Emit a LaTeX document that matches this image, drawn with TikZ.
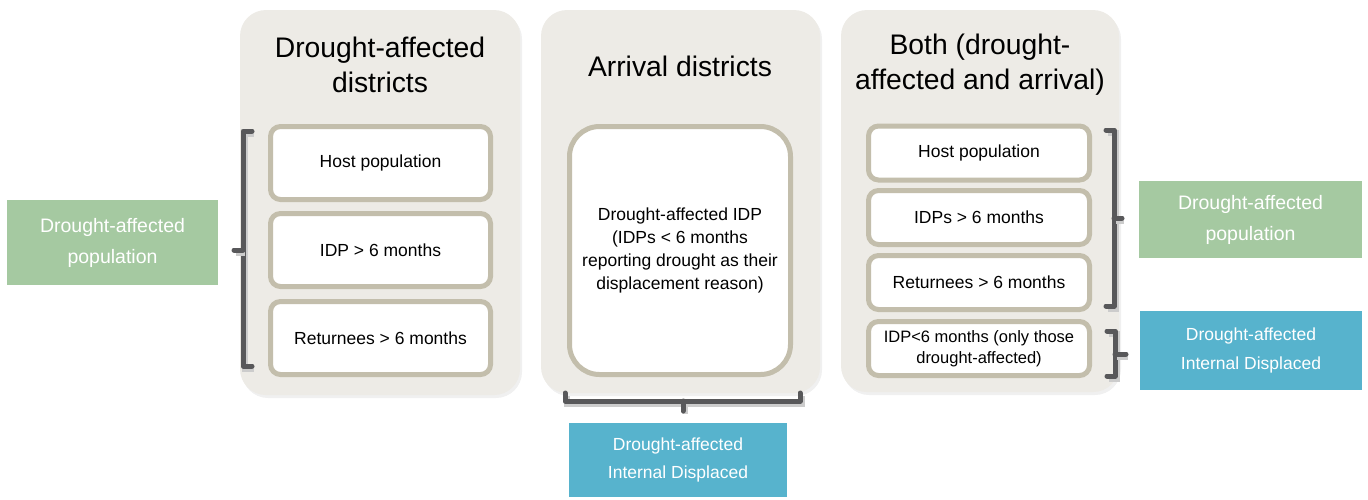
\documentclass[tikz,border=0pt]{standalone}
\usepackage{fontspec}
\setmainfont{Liberation Sans}
\usetikzlibrary{shadows}
\definecolor{panelfill}{HTML}{EDEBE6}
\definecolor{itemline}{HTML}{C3BEAC}
\definecolor{brackcol}{HTML}{58585A}
\definecolor{greenbox}{HTML}{A5C9A1}
\definecolor{bluebox}{HTML}{57B3CD}
\begin{document}
\begin{tikzpicture}[x=1pt,y=-1pt,
  panel/.style={fill=panelfill, rounded corners=26pt,
    drop shadow={shadow xshift=2pt, shadow yshift=-3pt, opacity=0.12}},
  paneltitle/.style={align=center, font=\fontsize{28.3}{35}\selectfont, inner sep=0pt},
  itembox/.style={draw=itemline, line width=5pt, fill=white, rounded corners=10pt,
    align=center, font=\fontsize{17.5}{23}\selectfont, inner sep=0pt},
  brack/.style={draw=brackcol, line width=5pt, line cap=round, line join=round,
    preaction={draw=black!20, line width=6pt, transform canvas={shift={(1.5pt,-3pt)}}}},
  labelbox/.style={text=white, align=center, inner sep=0pt},
  greenlab/.style={labelbox, fill=greenbox, font=\fontsize{19.5}{31}\selectfont},
  bluelab/.style={labelbox, fill=bluebox, font=\fontsize{17.5}{28.5}\selectfont}]
\useasboundingbox (0,0) rectangle (1368,499);

% three column panels
\path[panel] (240,10) rectangle (520,395);
\path[panel] (541,10) rectangle (820,393);
\path[panel] (841,10) rectangle (1119,392);

% panel titles
\node[paneltitle] (t1) at (380,65) {Drought-affected\\districts};
\node[paneltitle] (t2) at (680,66) {Arrival districts};
\node[paneltitle] (t3) at (980,65) {Both (drought-\\affected and arrival)};

% drought-affected districts
\node[itembox, minimum width=220, minimum height=73] (a1) at (380.5,163) {Host population};
\node[itembox, minimum width=220, minimum height=73] (a2) at (380.5,250) {IDP > 6 months};
\node[itembox, minimum width=220, minimum height=73] (a3) at (380.5,338) {Returnees > 6 months};

% arrival districts
\node[itembox, rounded corners=30pt, minimum width=221, minimum height=248] (b1) at (680,250.5)
  {Drought-affected IDP\\(IDPs < 6 months\\reporting drought as their\\displacement reason)};

% both
\node[itembox, minimum width=221, minimum height=54] (c1) at (979,153) {Host population};
\node[itembox, minimum width=221, minimum height=54] (c2) at (979,217.5) {IDPs > 6 months};
\node[itembox, minimum width=221, minimum height=54] (c3) at (979,282.5) {Returnees > 6 months};
\node[itembox, minimum width=221, minimum height=54, font=\fontsize{16.5}{21}\selectfont] (c4) at (979,348.5)
  {IDP<6 months (only those\\drought-affected)};

% brackets
\path[brack] (252,131) -- (243,131) -- (243,366) -- (252,366);
\path[brack] (243,250) -- (234,250);

\path[brack] (565,393) -- (565,401) -- (800,401) -- (800,393);
\path[brack] (683,401) -- (683,411);

\path[brack] (1106,130) -- (1114,130) -- (1114,306) -- (1106,306);
\path[brack] (1114,218) -- (1122,218);

\path[brack] (1107,331) -- (1115,331) -- (1115,376) -- (1107,376);
\path[brack] (1115,354) -- (1126,354);

% group labels
\node[greenlab, minimum width=211, minimum height=85] (g1) at (112.5,242.5) {Drought-affected\\population};
\node[greenlab, minimum width=223, minimum height=77] (g2) at (1250.5,219.5) {Drought-affected\\population};
\node[bluelab, minimum width=218, minimum height=74] (d1) at (678,460) {Drought-affected\\Internal Displaced};
\node[bluelab, minimum width=222, minimum height=79] (d2) at (1251,350.5) {Drought-affected\\Internal Displaced};
\end{tikzpicture}
\end{document}
